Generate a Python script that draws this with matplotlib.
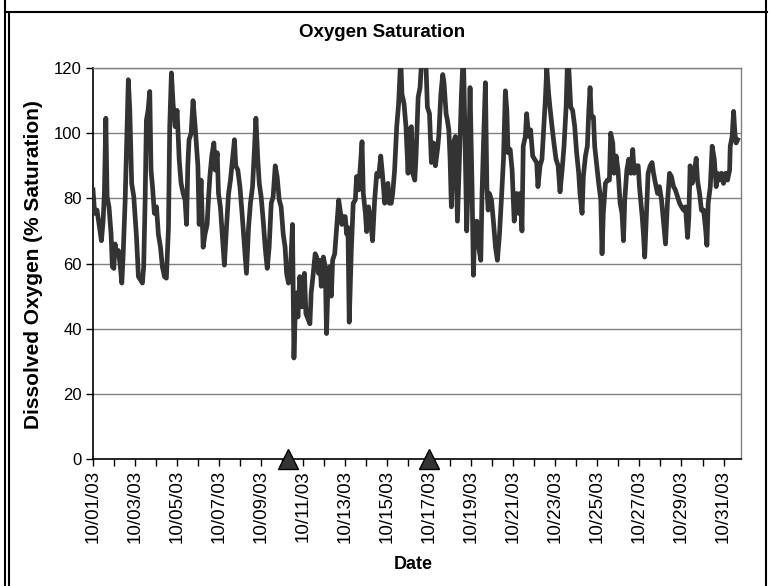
"""Oxygen saturation time series, October 2003 (Excel-style line chart)."""

import matplotlib
matplotlib.use("Agg")
import matplotlib.pyplot as plt
import matplotlib.dates as mdates
from matplotlib.lines import Line2D
import pandas as pd

plt.rcParams["font.family"] = ["Liberation Sans", "DejaVu Sans"]

# ── Data ──────────────────────────────────────────────────────────────────────
START = "2003-10-01"

# time since 10/01/03 00:00, in days
day_offset = [
    0.00, 0.08, 0.19, 0.29, 0.40, 0.48, 0.54, 0.61, 0.67, 0.76, 0.86, 0.92,
    0.99, 1.05, 1.11, 1.21, 1.30, 1.37, 1.43, 1.53, 1.62, 1.68, 1.75, 1.84,
    1.94, 2.07, 2.16, 2.26, 2.35, 2.41, 2.48, 2.54, 2.62, 2.70, 2.76, 2.83,
    2.92, 3.02, 3.11, 3.21, 3.30, 3.40, 3.49, 3.59, 3.65, 3.73, 3.81, 3.91,
    4.00, 4.10, 4.19, 4.29, 4.38, 4.45, 4.51, 4.57, 4.67, 4.76, 4.86,
    4.99, 5.05, 5.14, 5.24, 5.33, 5.43, 5.49, 5.56, 5.65, 5.75, 5.81, 5.91,
    5.97, 6.06, 6.16, 6.25, 6.35, 6.45, 6.54, 6.64, 6.73, 6.79, 6.89, 6.99,
    7.08, 7.21, 7.30, 7.40, 7.49, 7.59, 7.68, 7.75, 7.84, 7.91, 8.00, 8.10,
    8.19, 8.29, 8.38, 8.48, 8.57, 8.67, 8.76, 8.86, 8.95, 9.05, 9.14, 9.21,
    9.30, 9.40, 9.49, 9.56, 9.62, 9.68, 9.75, 9.84, 9.94, 10.00, 10.06, 10.13,
    10.32, 10.38, 10.48, 10.57, 10.64, 10.73, 10.80, 10.86, 10.96, 11.05,
    11.11, 11.18, 11.27, 11.34, 11.40, 11.50, 11.59, 11.69, 11.78, 11.84,
    11.91, 12.00, 12.07, 12.13, 12.19, 12.29, 12.38, 12.48, 12.54, 12.64,
    12.73, 12.80, 12.86, 12.96, 13.02, 13.11, 13.21, 13.30, 13.40, 13.50,
    13.59, 13.69, 13.78, 13.88, 13.97, 14.03, 14.10, 14.19, 14.26, 14.35,
    14.45, 14.54, 14.64, 14.70, 14.80, 14.89, 14.99, 15.05, 15.15, 15.21,
    15.31, 15.37, 15.47, 15.56, 15.66, 15.75, 15.82, 15.91, 16.01, 16.10,
    16.20, 16.29, 16.39, 16.45, 16.55, 16.64, 16.70, 16.80, 16.86, 16.93,
    16.99, 17.05, 17.15, 17.24, 17.34, 17.43, 17.53, 17.62, 17.69, 17.78,
    17.85, 17.94, 18.04, 18.10, 18.16, 18.26, 18.35, 18.45, 18.51, 18.58,
    18.67, 18.74, 18.80, 18.86, 18.96, 19.05, 19.15, 19.24, 19.34, 19.43,
    19.53, 19.62, 19.69, 19.75, 19.85, 19.94, 20.04, 20.10,
    20.16, 20.25, 20.32, 20.41, 20.47, 20.57, 20.63, 20.73, 20.82, 20.92,
    21.01, 21.11, 21.17, 21.27, 21.36, 21.43, 21.52, 21.59, 21.68, 21.74,
    21.84, 21.93, 22.03, 22.13, 22.22, 22.32, 22.41, 22.51, 22.57, 22.63,
    22.73, 22.82, 22.92, 23.01, 23.11, 23.17, 23.27, 23.33, 23.43, 23.52,
    23.59, 23.65, 23.71, 23.81, 23.87, 23.97, 24.06, 24.16, 24.22, 24.28,
    24.38, 24.47, 24.57, 24.63, 24.73, 24.79, 24.89, 24.98, 25.08, 25.17,
    25.24, 25.30, 25.40, 25.49, 25.59, 25.68, 25.75, 25.84, 25.94, 26.00,
    26.06, 26.13, 26.19, 26.25, 26.32, 26.41, 26.51, 26.60, 26.67, 26.76,
    26.86, 26.95, 27.05, 27.14, 27.24, 27.33, 27.43, 27.52, 27.62, 27.71,
    27.81, 27.91, 28.00, 28.10, 28.19, 28.29, 28.35, 28.41, 28.51, 28.60,
    28.70, 28.76, 28.86, 28.95, 29.05, 29.14, 29.21, 29.27, 29.37, 29.46,
    29.56, 29.65, 29.71, 29.81, 29.90, 30.00, 30.10, 30.19, 30.29, 30.32,
    30.41, 30.48, 30.54, 30.60, 30.67,
]

# dissolved oxygen, % saturation
do_sat = [
    82.6, 75.4, 76.4, 72.0, 67.0, 73.0, 81.5, 104.6, 80.5, 77.4, 69.0, 59.0,
    58.5, 66.0, 63.0, 64.0, 59.0, 54.0, 62.0, 79.5, 102.0, 116.4, 107.0, 84.6,
    80.5, 68.0, 56.0, 55.0, 54.0, 59.0, 79.5, 104.0, 107.0, 112.8, 88.7, 83.6,
    75.4, 77.4, 69.0, 65.0, 59.0, 56.0, 55.5, 71.0, 102.0, 118.5, 109.0, 102.0,
    107.0, 92.0, 84.6, 81.5, 79.5, 72.0, 90.0, 98.0, 100.0, 110.0, 102.0,
    90.0, 72.0, 85.6, 65.0, 69.0, 72.0, 79.5, 86.7, 93.0, 97.0, 88.7, 94.0,
    81.5, 77.4, 68.0, 59.5, 71.0, 81.5, 85.6, 92.0, 98.0, 90.0, 88.7, 83.6,
    76.4, 65.0, 57.0, 71.0, 78.5, 83.6, 95.0, 104.6, 92.0, 84.6, 80.5, 73.0,
    65.0, 58.5, 65.0, 78.5, 80.5, 90.0, 86.7, 79.5, 77.4, 69.0, 65.0, 57.0,
    54.0, 59.0, 72.0, 31.0, 44.6, 51.0, 43.6, 56.0, 46.7, 52.0, 57.0, 44.6,
    41.5, 51.0, 57.0, 63.0, 62.0, 57.0, 61.0, 53.0, 62.0, 59.0,
    38.5, 53.0, 59.0, 50.0, 61.0, 63.0, 71.0, 79.5, 75.4, 72.0,
    74.4, 74.4, 69.0, 71.0, 42.0, 64.0, 78.5, 79.5, 86.7, 82.6,
    91.0, 97.4, 81.5, 75.4, 69.8, 77.4, 73.0, 67.0, 79.5, 87.7,
    86.7, 93.0, 86.7, 78.5, 83.6, 84.6, 78.5, 78.5, 81.5, 88.7,
    102.0, 109.0, 123.0, 112.0, 109.0, 102.0, 87.7, 101.0, 102.0, 87.7,
    85.6, 93.0, 111.0, 114.0, 125.0, 122.0, 125.0, 108.0, 106.0, 91.0,
    97.0, 90.0, 95.0, 99.0, 112.0, 118.0, 115.5, 106.0, 104.0, 101.0,
    92.0, 77.4, 97.0, 99.0, 73.0, 92.0, 112.0, 125.0, 102.0, 70.0,
    85.6, 114.0, 81.5, 56.4, 71.0, 73.0, 65.0, 61.0, 81.5, 97.0,
    115.5, 83.6, 76.4, 81.5, 79.5, 73.0, 65.0, 61.0, 69.0, 79.5,
    92.0, 113.0, 107.0, 94.0, 95.0, 88.7, 73.0, 77.4,
    81.5, 75.4, 81.5, 70.0, 96.0, 99.0, 106.0, 99.0, 101.0, 93.0,
    92.0, 91.0, 83.6, 90.0, 92.0, 100.0, 110.0, 120.0, 112.0, 108.0,
    102.0, 97.0, 92.0, 90.0, 82.0, 88.7, 96.0, 108.0, 121.0, 121.0,
    108.0, 107.0, 102.0, 94.0, 87.7, 81.5, 75.4, 86.7, 93.0, 96.0,
    107.0, 114.0, 105.0, 105.0, 96.0, 90.0, 84.6, 79.5, 63.0, 75.4,
    84.6, 85.6, 85.6, 100.0, 97.0, 87.7, 93.0, 88.7, 78.5, 75.4,
    67.0, 79.5, 88.7, 92.0, 87.7, 95.0, 87.7, 90.0, 90.0, 83.6,
    79.5, 74.4, 69.0, 62.0, 73.0, 87.7, 90.0, 91.0, 87.7, 84.6,
    81.5, 83.6, 79.5, 73.0, 66.0, 78.5, 87.7, 86.7, 83.6, 82.6,
    80.5, 78.5, 77.4, 76.4, 77.4, 68.0, 74.4, 90.0, 84.6, 87.7,
    92.3, 85.6, 81.5, 76.4, 76.4, 71.0, 65.6, 78.5, 83.6, 96.0,
    92.0, 83.6, 87.7, 85.6, 87.7, 84.6, 87.7, 85.6, 88.7, 96.0,
    99.0, 106.7, 100.0, 97.0, 98.0,
]

# event markers drawn on the date axis
event_offset = [9.26, 16.0]
event_level = [0, 0]

y_ticks = [0, 20, 40, 60, 80, 100, 120]
x_span_days = 30.83

# ── Figure ────────────────────────────────────────────────────────────────────
start = pd.Timestamp(START)
t = start + pd.to_timedelta(day_offset, unit="D")
t_events = start + pd.to_timedelta(event_offset, unit="D")

fig = plt.figure(figsize=(7.7, 5.86), dpi=100)
ax = fig.add_axes([0.1208, 0.2167, 0.8415, 0.6672])

for y in y_ticks[1:]:
    ax.axhline(y, color="#808080", linewidth=1.0, zorder=1)

ax.plot(t, do_sat, color="#333333", linewidth=3.4, solid_joinstyle="round", zorder=3)
ax.plot(t_events, event_level, linestyle="none", marker="^", markersize=14,
        markerfacecolor="#333333", markeredgecolor="black", markeredgewidth=1.0,
        clip_on=False, zorder=5)

ax.set_ylim(0, 120)
ax.set_xlim(start, start + pd.Timedelta(days=x_span_days))
ax.set_yticks(y_ticks)

ax.xaxis.set_major_locator(mdates.DayLocator(bymonthday=range(1, 32, 2)))
ax.xaxis.set_minor_locator(mdates.DayLocator())
ax.xaxis.set_major_formatter(mdates.DateFormatter("%m/%d/%y"))
ax.tick_params(axis="x", which="both", direction="out", length=5, width=1.0,
               color="black", labelsize=13.5, rotation=90, pad=3)
ax.tick_params(axis="y", direction="out", length=5, width=1.0, color="black",
               labelsize=12, pad=3)

for side in ("top", "right"):
    ax.spines[side].set_color("#808080")
    ax.spines[side].set_linewidth(1.0)
for side in ("left", "bottom"):
    ax.spines[side].set_color("black")
    ax.spines[side].set_linewidth(1.2)
ax.spines["bottom"].set_zorder(4)

fig.text(0.496, 0.945, "Oxygen Saturation", ha="center", va="center",
         fontsize=13.5, fontweight="bold")
fig.text(0.043, 0.548, "Dissolved Oxygen (% Saturation)", ha="center", va="center",
         rotation=90, fontsize=15, fontweight="bold")
fig.text(0.537, 0.036, "Date", ha="center", va="center",
         fontsize=13, fontweight="bold")

# outer frame (chart border inside a table cell)
frame_kw = dict(transform=fig.transFigure, color="black", linewidth=1.5)
fig.add_artist(Line2D([0.006, 0.996], [0.979, 0.979], **frame_kw))
fig.add_artist(Line2D([0.006, 0.006], [0.0, 1.0], **frame_kw))
fig.add_artist(Line2D([0.0115, 0.0115], [0.0, 0.979], **frame_kw))
fig.add_artist(Line2D([0.995, 0.995], [0.0, 1.0], **frame_kw))

fig.savefig("out.png", dpi=100)
